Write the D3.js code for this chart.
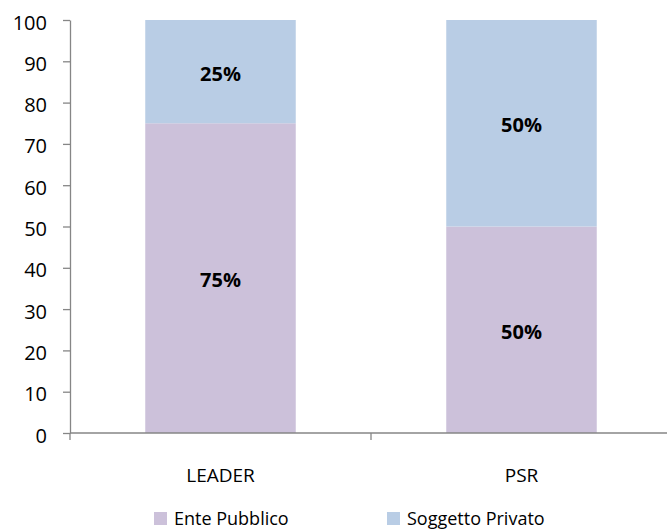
<!DOCTYPE html>
<html>
    <head>
        <script src="https://d3js.org/d3.v7.min.js"></script>
        <style>
            body{margin:0;background:#fff;}
            text{font-family:"Open Sans","Noto Sans",sans-serif;fill:#000;}
        </style>
    </head>
    <body>
        <svg height="531" width="667" id="chart"></svg>
        <script>
            const categories=["LEADER", "PSR"];
            const seriesNames=["Ente Pubblico", "Soggetto Privato"];
            const entePubblico=[75, 50];
            const soggettoPrivato=[25, 50];
            const yTicks=[0,10,20,30,40,50,60,70,80,90,100];
            const colors=["#ccc1da", "#b9cde5"];

            let svg=d3.select("#chart");
            let x=d3.scaleBand().domain(categories).range([70, 672]).paddingInner(0.5).paddingOuter(0.25);
            let y=d3.scaleLinear().domain([0,100]).range([433, 20]);

            let rows=categories.map((c,i)=>({cat:c, "Ente Pubblico":entePubblico[i], "Soggetto Privato":soggettoPrivato[i]}));
            let stacked=d3.stack().keys(seriesNames)(rows);

            let layers=svg.append("g").selectAll("g")
                .data(stacked)
                .join("g")
                .attr("fill", (d,i)=>colors[i]);
            layers.selectAll("rect")
                .data(d=>d)
                .join("rect")
                .attr("x", d=>x(d.data.cat))
                .attr("width", x.bandwidth())
                .attr("y", d=>y(d[1]))
                .attr("height", d=>y(d[0])-y(d[1]));

            // data labels
            layers.selectAll("text")
                .data(d=>d)
                .join("text")
                .attr("x", d=>x(d.data.cat)+x.bandwidth()/2)
                .attr("y", d=>(y(d[0])+y(d[1]))/2+9)
                .attr("text-anchor", "middle")
                .style("font-weight", "bold")
                .style("font-size", "20px")
                .text(d=>(d[1]-d[0])+"%");

            // y axis
            let yAxis=svg.append("g")
                .attr("transform", "translate(70,0)")
                .call(d3.axisLeft(y).tickValues(yTicks).tickSize(7).tickSizeOuter(0).tickPadding(16));
            yAxis.selectAll("line, path").attr("stroke", "#868686").attr("stroke-width", 1.3);
            yAxis.selectAll("text").attr("dy", "0.45em").style("font-size", "20px").attr("fill", "#000");

            // x axis
            let xAxis=svg.append("g")
                .attr("transform", "translate(0,433)");
            xAxis.append("line")
                .attr("x1", 70).attr("x2", 672)
                .attr("stroke", "#868686").attr("stroke-width", 1.5);
            let bounds=[70, x.step()+70, 2*x.step()+70];
            xAxis.selectAll(".tk")
                .data(bounds)
                .join("line")
                .attr("x1", d=>d).attr("x2", d=>d)
                .attr("y1", 0).attr("y2", 7)
                .attr("stroke", "#868686").attr("stroke-width", 1.3);
            xAxis.selectAll(".lbl")
                .data(categories)
                .join("text")
                .attr("x", d=>x(d)+x.bandwidth()/2)
                .attr("y", 49)
                .attr("text-anchor", "middle")
                .style("font-size", "19px")
                .text(d=>d);

            // legend
            let legendX=[154, 387];
            let legend=svg.append("g").selectAll("g")
                .data(seriesNames)
                .join("g")
                .attr("transform", (d,i)=>`translate(${legendX[i]},512)`);
            legend.append("rect")
                .attr("width", 13).attr("height", 13)
                .attr("fill", (d,i)=>colors[i]);
            legend.append("text")
                .attr("x", 20).attr("y", 13)
                .style("font-size", "18px")
                .text(d=>d);
        </script>
    </body>
</html>
